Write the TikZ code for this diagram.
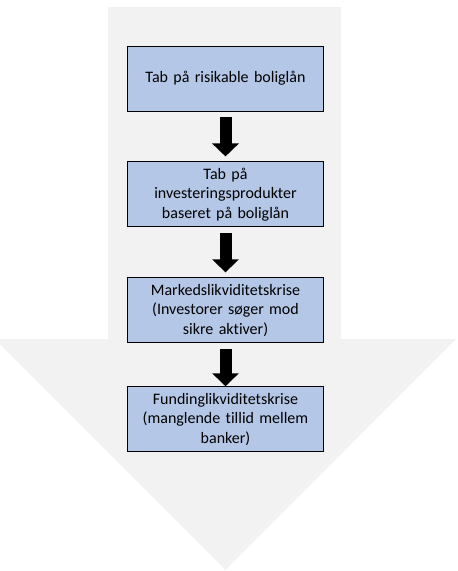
\documentclass[tikz,border=0pt]{standalone}
\usepackage{fontspec}
\setmainfont[Ligatures = CommonOff]{Carlito}
\usetikzlibrary{positioning, arrows.meta}
\definecolor{boxblue}{HTML}{B4C7E7}
\definecolor{bigarrow}{HTML}{F2F2F2}
\tikzset{
    stage/.style = {draw = black, line width = 0.9pt, fill = boxblue, minimum width = 195pt,
        minimum height = 65pt, align = center, text width = 190pt,
        font = \fontsize{16pt}{19.5pt}\selectfont},
    flow/.style = {line width = 12pt, -{Triangle[width = 26pt, length = 13pt]},
        shorten <= 6pt, shorten >= 5pt}
}
\begin{document}
\begin{tikzpicture}[x = 1pt, y = -1pt]
    \useasboundingbox (0,0) rectangle (458,571);
    \fill[bigarrow] (108,7) -- (341,7) -- (341,339) -- (456,339) -- (225.5,570)
        -- (-5,339) -- (108,339) -- cycle;
    \node[stage] (tab) at (225.5,78.5) {Tab på risikable boliglån};
    \node[stage, below = 50pt of tab] (invest) {Tab på\\investeringsprodukter\\baseret på boliglån};
    \node[stage, below = 50pt of invest] (marked) {Markedslikviditetskrise\\(Investorer søger mod\\sikre aktiver)};
    \node[stage, below = 43pt of marked] (funding) {Fundinglikviditetskrise\\(manglende tillid mellem\\banker)};
    \draw[flow] (tab) -- (invest);
    \draw[flow] (invest) -- (marked);
    \draw[flow, shorten >= 0pt] (marked) -- (funding);
\end{tikzpicture}
\end{document}
